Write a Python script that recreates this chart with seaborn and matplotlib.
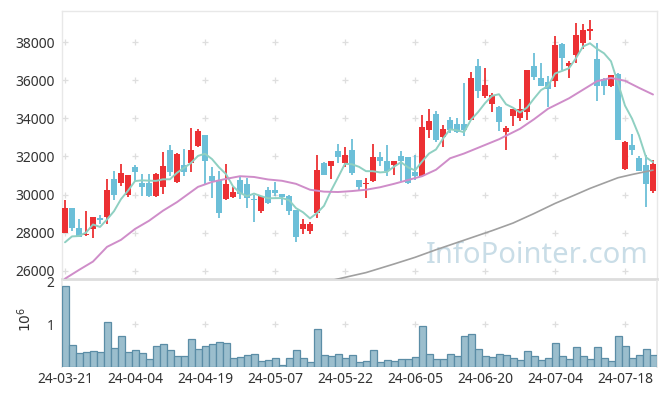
import numpy as np
import pandas as pd
import matplotlib
matplotlib.use("Agg")
import matplotlib.pyplot as plt
import seaborn as sns

# x axis labels (every 10th trading day)
tick_labels = ["24-03-21", "24-04-04", "24-04-19", "24-05-07", "24-05-22",
               "24-06-05", "24-06-20", "24-07-04", "24-07-18"]

# daily OHLC
opens = [27970, 29300, 28250, 27860, 28180, 28750, 28810, 30790, 30600, 29950,
         31420, 30600, 30630, 29930, 30390, 32350, 30650, 31530, 31650, 32530,
         33100, 30980, 30770, 29760, 29860, 30740, 30530, 29740, 29120, 30250,
         30210, 30040, 29900, 29160, 28180, 28110, 29020, 31650, 31510, 32260,
         31650, 32350, 30740, 30530, 30690, 31950, 31770, 31530, 32040, 31950,
         31190, 30950, 33400, 34250, 33020, 33930, 33700, 33720, 33900, 36770,
         35190, 34740, 34600, 33260, 34110, 34020, 34320, 36770, 36120, 35930,
         35950, 37880, 36740, 37350, 37970, 38580, 37120, 36040, 35690, 36350,
         31350, 32620, 31910, 31560, 30190]
highs = [29690, 29300, 28720, 29160, 28840, 28950, 30790, 31210, 31610, 31050,
         31560, 31090, 31090, 31120, 32250, 32580, 32180, 32400, 33510, 33420,
         33100, 31470, 31260, 31610, 30390, 30950, 30880, 29970, 29900, 30420,
         30680, 30040, 29950, 29190, 28720, 28550, 32100, 31700, 31740, 32670,
         32490, 32930, 30740, 30880, 32650, 32210, 32600, 31770, 32260, 31950,
         32070, 34180, 34490, 34370, 33650, 34070, 34000, 35870, 36420, 37120,
         36650, 35330, 34630, 33620, 34510, 35020, 36540, 37440, 36910, 36210,
         38320, 37970, 37000, 39020, 38930, 39140, 37970, 36120, 36300, 36390,
         32790, 33180, 32000, 32050, 31790]
lows = [27970, 28070, 27750, 27830, 27720, 28460, 28460, 29720, 30460, 29860,
        30670, 29900, 29860, 29860, 30040, 30970, 30600, 30970, 31180, 32490,
        30530, 29830, 28770, 29720, 29830, 29770, 29300, 28580, 29020, 29510,
        29900, 29470, 28950, 27530, 27930, 27930, 28770, 31000, 30830, 31680,
        31440, 31050, 30250, 29830, 30670, 31510, 30950, 31020, 30690, 30560,
        30770, 30910, 32950, 32740, 32490, 33230, 33230, 33090, 33900, 35070,
        35070, 34350, 33320, 32350, 33620, 33840, 33930, 36000, 35690, 34600,
        35650, 36560, 36120, 36880, 37650, 38100, 34900, 35250, 35650, 32840,
        31300, 32050, 31210, 29340, 30070]
closes = [29300, 28250, 27790, 27950, 28840, 28650, 30210, 29970, 31120, 31050,
          31180, 30390, 29900, 31050, 31470, 31180, 32100, 31180, 32350, 33320,
          31750, 30700, 29020, 30560, 30110, 30040, 29830, 29700, 29900, 29540,
          30070, 29860, 29160, 27790, 28460, 28460, 31260, 31050, 31740, 31970,
          32050, 31120, 30390, 30600, 31950, 31740, 31250, 31770, 31770, 30600,
          30950, 33550, 33880, 32840, 33440, 33400, 33300, 33370, 36120, 35420,
          35760, 35230, 33790, 33490, 34510, 34510, 36510, 36160, 35720, 35540,
          37830, 37180, 36880, 38350, 38610, 38670, 35720, 35720, 36250, 32880,
          32760, 32320, 31250, 30550, 31620]

# volume in units of 10^6
volumes = [1.89, 0.51, 0.31, 0.34, 0.36, 0.34, 1.04, 0.43, 0.72, 0.34,
           0.38, 0.31, 0.17, 0.48, 0.52, 0.38, 0.25, 0.25, 0.64, 0.41,
           0.48, 0.52, 0.59, 0.55, 0.20, 0.22, 0.27, 0.29, 0.13, 0.15,
           0.20, 0.05, 0.20, 0.38, 0.20, 0.12, 0.875, 0.27, 0.25, 0.29,
           0.20, 0.27, 0.10, 0.125, 0.38, 0.10, 0.15, 0.125, 0.17, 0.17,
           0.22, 0.95, 0.29, 0.17, 0.17, 0.29, 0.24, 0.73, 0.76, 0.41,
           0.24, 0.22, 0.29, 0.27, 0.20, 0.15, 0.36, 0.24, 0.15, 0.20,
           0.55, 0.24, 0.17, 0.45, 0.24, 0.17, 0.45, 0.20, 0.125, 0.71,
           0.48, 0.20, 0.27, 0.41, 0.27]

# first MA5 values depend on days before the window
ma5_head = [27490, 27800, 27820, 28000]

# MA20 and MA120 read at sample points
ma20_idx = [0, 2, 4, 6, 8, 10, 12, 14, 16, 19, 21, 23, 25, 27, 29, 31, 33, 35,
            37, 39, 41, 43, 45, 47, 49, 51, 53, 55, 57, 59, 62, 65, 67, 69,
            72, 74, 76, 78, 80, 82, 84]
ma20_val = [25580, 26040, 26480, 27250, 27620, 28190, 28620, 29150, 29600,
            30400, 30660, 30820, 30960, 30920, 30790, 30720, 30560, 30250,
            30150, 30130, 30180, 30250, 30380, 30560, 30760, 30960, 31300,
            31900, 32150, 32450, 32900, 33450, 33950, 34500, 35050, 35500,
            35950, 36120, 35970, 35600, 35250]
ma120_idx = [38, 40, 43, 47, 50, 53, 57, 61, 64, 67, 70, 73, 75, 77, 79, 81, 84]
ma120_val = [25480, 25650, 25900, 26350, 26700, 27100, 27600, 28100, 28500,
             29000, 29530, 30000, 30320, 30600, 30880, 31050, 31280]

UP = "#ec3033"
DOWN = "#6cbfd8"
MA5_C = "#8fd0c2"
MA20_C = "#cf8dc9"
MA120_C = "#a0a0a0"
GRID_C = "#dedede"

sns.set_theme(style="white")
plt.rcParams["font.family"] = ["Noto Sans", "DejaVu Sans"]

df = pd.DataFrame({"open": opens, "high": highs, "low": lows,
                   "close": closes, "vol": volumes})
df["idx"] = np.arange(len(df))
df["ma5"] = df["close"].rolling(5).mean()
df.loc[:3, "ma5"] = ma5_head
up = df["close"] >= df["open"]
colors = np.where(up, UP, DOWN)

W, H = 665, 396
fig = plt.figure(figsize=(W / 100, H / 100), dpi=100)
ax = fig.add_axes([61.5 / W, 1 - 278.5 / H, 595 / W, 268 / H])
axv = fig.add_axes([61.5 / W, 1 - 366.7 / H, 595 / W, 85.4 / H])

# candles
body_lo = df[["open", "close"]].min(axis=1)
body_h = np.maximum((df["close"] - df["open"]).abs(), 70)
ax.vlines(df["idx"], df["low"], df["high"], colors=colors, linewidth=1.3, zorder=3)
ax.bar(df["idx"], body_h, bottom=body_lo, width=0.72, color=colors,
       linewidth=0, zorder=4)

# moving averages
sns.lineplot(x=df["idx"], y=df["ma5"], ax=ax, color=MA5_C, linewidth=1.4,
             estimator=None, zorder=5)
sns.lineplot(x=ma20_idx, y=ma20_val, ax=ax, color=MA20_C, linewidth=1.4,
             estimator=None, zorder=5)
sns.lineplot(x=ma120_idx, y=ma120_val, ax=ax, color=MA120_C, linewidth=1.2,
             estimator=None, zorder=5)

ax.text(0.80, 0.086, "InfoPointer.com", transform=ax.transAxes, ha="center",
        va="center", fontsize=21, color="#c9dde7", zorder=1)

price_ticks = [26000, 28000, 30000, 32000, 34000, 36000, 38000]
xt = list(range(0, 85, 10))
gx, gy = np.meshgrid(xt, price_ticks)
ax.scatter(gx.ravel(), gy.ravel(), marker="+", s=22, color=GRID_C,
           linewidths=0.9, zorder=0)

ax.set_xlim(-0.5, 84.5)
ax.set_ylim(25590, 39660)
ax.set_yticks(price_ticks)
ax.set_xticks([])
ax.set_xlabel("")
ax.set_ylabel("")
for side in ["top", "left", "right"]:
    ax.spines[side].set_color("#e8e8e8")
    ax.spines[side].set_linewidth(1)
ax.spines["bottom"].set_color("#dddddd")
ax.spines["bottom"].set_linewidth(2)
ax.tick_params(axis="y", length=0, pad=5, labelsize=10, labelcolor="#333333")

# volume
sns.barplot(x=df["idx"], y=df["vol"], ax=axv, color="#9bbecd",
            edgecolor="#5b8da6", linewidth=0.9, width=1.0, saturation=1,
            zorder=3)
vx, vy = np.meshgrid(xt, [1])
axv.scatter(vx.ravel(), vy.ravel(), marker="+", s=22, color=GRID_C,
            linewidths=0.9, zorder=0)
axv.set_xlim(-0.5, 84.5)
axv.set_ylim(0, 2)
axv.set_yticks([1, 2])
axv.set_xticks(xt)
axv.set_xticklabels(tick_labels)
axv.set_xlabel("")
axv.set_ylabel(r"$10^6$", fontsize=10, color="#333333")
axv.yaxis.set_label_coords(-0.045, 0.55)
axv.spines["top"].set_visible(False)
axv.spines["bottom"].set_visible(False)
axv.spines["left"].set_color("#e8e8e8")
axv.spines["right"].set_color("#e8e8e8")
axv.tick_params(axis="both", length=0, labelsize=10, labelcolor="#333333")
axv.tick_params(axis="x", pad=4)
axv.tick_params(axis="y", pad=5)

fig.savefig("out.png", dpi=100)
